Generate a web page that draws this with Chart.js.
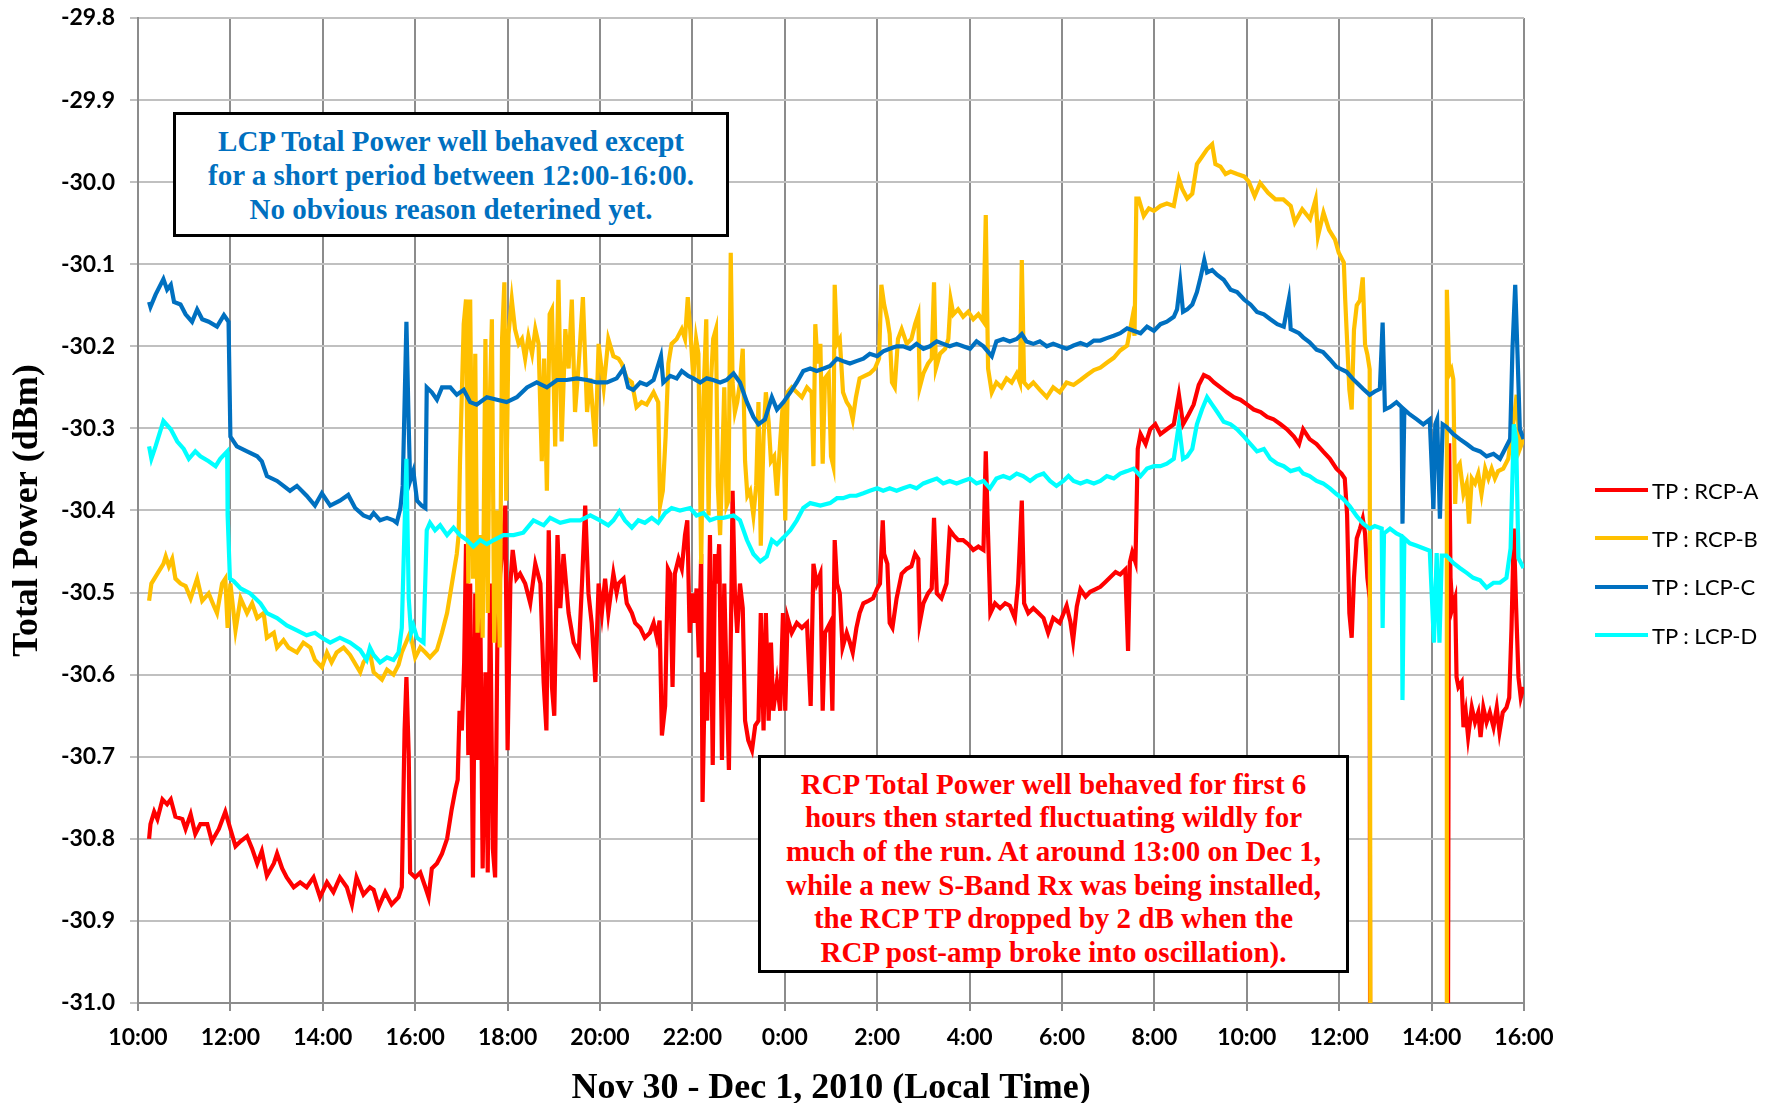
<!DOCTYPE html>
<html>
<head>
<meta charset="utf-8">
<title>Total Power, Nov 30 - Dec 1, 2010</title>
<script src="https://cdn.jsdelivr.net/npm/chart.js@4.4.1/dist/chart.umd.min.js"></script>
<style>
  html, body { margin: 0; padding: 0; background: #fff; }
  #wrap { position: relative; width: 1780px; height: 1103px; }
  #chart { position: absolute; left: 0; top: 0; }
  .note {
    position: absolute; box-sizing: border-box; background: #fff; border: 3px solid #000;
    font-family: "Liberation Serif", "Times New Roman", serif; font-weight: bold; font-size: 29px;
    text-align: center; display: flex; flex-direction: column; justify-content: center;
  }
  #lcpNote { left: 173px; top: 112px; width: 556px; height: 125px; color: #0070C0; line-height: 34px; }
  #rcpNote { left: 758px; top: 755px; width: 591px; height: 218px; color: #FF0000; line-height: 33.6px; padding-top: 9px; }
  #legend { position: absolute; left: 1595px; top: 466px; font-family: Lato, sans-serif; font-size: 22px; color: #000; }
  .item { height: 48.3px; display: flex; align-items: center; white-space: pre; }
  .swatch { display: inline-block; width: 53px; height: 4px; margin-right: 4px; }
</style>
</head>
<body>
<div id="wrap">
  <canvas id="chart" width="1780" height="1103"></canvas>
  <div class="note" id="lcpNote">
    <div>LCP Total Power well behaved except</div>
    <div>for a short period between 12:00-16:00.</div>
    <div>No obvious reason deterined yet.</div>
  </div>
  <div class="note" id="rcpNote">
    <div>RCP Total Power well behaved for first 6</div>
    <div>hours then started fluctuating wildly for</div>
    <div>much of the run. At around 13:00 on Dec 1,</div>
    <div>while a new S-Band Rx was being installed,</div>
    <div>the RCP TP dropped by 2 dB when the</div>
    <div>RCP post-amp broke into oscillation).</div>
  </div>
  <div id="legend"></div>
</div>
<script>
// x = hours after 10:00 Nov 30 (local time), y = total power in dBm
const xTickHours = [0, 2, 4, 6, 8, 10, 12, 14, 16, 18, 20, 22, 24, 26, 28, 30];
const xTickLabels = ['10:00', '12:00', '14:00', '16:00', '18:00', '20:00', '22:00', '0:00',
                     '2:00', '4:00', '6:00', '8:00', '10:00', '12:00', '14:00', '16:00'];
const yTickValues = [-31.0, -30.9, -30.8, -30.7, -30.6, -30.5, -30.4, -30.3, -30.2, -30.1, -30.0, -29.9, -29.8];
const yTickLabels = ['-31.0', '-30.9', '-30.8', '-30.7', '-30.6', '-30.5', '-30.4', '-30.3', '-30.2', '-30.1', '-30.0', '-29.9', '-29.8'];

const seriesNames = ['TP : RCP-A', 'TP : RCP-B', 'TP : LCP-C', 'TP : LCP-D'];
const seriesColors = ['#FF0000', '#FFC000', '#0070C0', '#00FFFF'];

const rcpA = [
  [0.24,-30.800],[0.27,-30.782],[0.35,-30.767],[0.42,-30.776],[0.53,-30.752],[0.63,-30.758],[0.71,-30.752],[0.81,-30.773],
  [0.96,-30.776],[1.03,-30.788],[1.14,-30.770],[1.24,-30.794],[1.35,-30.782],[1.50,-30.782],[1.60,-30.803],[1.75,-30.788],
  [1.89,-30.767],[2.00,-30.788],[2.11,-30.809],[2.22,-30.803],[2.36,-30.797],[2.47,-30.812],[2.58,-30.830],[2.68,-30.815],
  [2.79,-30.845],[2.94,-30.830],[3.01,-30.818],[3.12,-30.836],[3.22,-30.847],[3.37,-30.859],[3.51,-30.853],[3.65,-30.859],
  [3.80,-30.847],[3.94,-30.871],[4.09,-30.853],[4.23,-30.865],[4.37,-30.847],[4.52,-30.859],[4.63,-30.880],[4.73,-30.847],
  [4.88,-30.868],[5.02,-30.859],[5.10,-30.862],[5.21,-30.883],[5.35,-30.865],[5.49,-30.880],[5.64,-30.871],[5.71,-30.859],
  [5.77,-30.668],[5.81,-30.603],[5.86,-30.698],[5.89,-30.841],[6.00,-30.847],[6.11,-30.841],[6.22,-30.859],[6.29,-30.871],
  [6.36,-30.836],[6.47,-30.830],[6.58,-30.818],[6.69,-30.800],[6.79,-30.764],[6.87,-30.740],[6.92,-30.728],[6.96,-30.644],
  [7.01,-30.668],[7.06,-30.585],[7.10,-30.441],[7.15,-30.698],[7.19,-30.489],[7.25,-30.847],[7.30,-30.501],[7.35,-30.704],
  [7.41,-30.525],[7.46,-30.836],[7.52,-30.597],[7.57,-30.841],[7.62,-30.489],[7.68,-30.812],[7.73,-30.847],[7.78,-30.549],
  [7.84,-30.477],[7.90,-30.441],[7.95,-30.394],[8.00,-30.692],[8.06,-30.489],[8.11,-30.448],[8.19,-30.483],[8.27,-30.477],
  [8.38,-30.489],[8.49,-30.513],[8.60,-30.465],[8.71,-30.489],[8.78,-30.609],[8.84,-30.668],[8.89,-30.424],[8.96,-30.615],
  [9.01,-30.650],[9.08,-30.430],[9.14,-30.519],[9.21,-30.453],[9.32,-30.525],[9.43,-30.561],[9.54,-30.573],[9.61,-30.489],
  [9.68,-30.394],[9.75,-30.501],[9.82,-30.537],[9.90,-30.609],[9.97,-30.489],[10.04,-30.525],[10.11,-30.483],[10.18,-30.525],
  [10.29,-30.477],[10.36,-30.500],[10.40,-30.489],[10.51,-30.483],[10.58,-30.513],[10.69,-30.525],[10.76,-30.537],[10.87,-30.543],
  [10.97,-30.555],[11.08,-30.549],[11.16,-30.537],[11.23,-30.555],[11.29,-30.534],[11.34,-30.674],[11.41,-30.638],[11.47,-30.471],
  [11.52,-30.477],[11.57,-30.615],[11.62,-30.477],[11.70,-30.459],[11.77,-30.471],[11.84,-30.430],[11.89,-30.412],[11.94,-30.549],
  [11.99,-30.501],[12.04,-30.537],[12.09,-30.495],[12.14,-30.579],[12.19,-30.453],[12.22,-30.755],[12.27,-30.597],[12.32,-30.656],
  [12.38,-30.430],[12.44,-30.710],[12.49,-30.453],[12.53,-30.489],[12.58,-30.441],[12.64,-30.704],[12.69,-30.489],[12.74,-30.609],
  [12.79,-30.716],[12.84,-30.519],[12.87,-30.376],[12.92,-30.501],[12.97,-30.549],[13.03,-30.489],[13.09,-30.519],[13.14,-30.656],
  [13.21,-30.680],[13.29,-30.692],[13.36,-30.662],[13.43,-30.656],[13.48,-30.525],[13.54,-30.668],[13.59,-30.525],[13.65,-30.656],
  [13.70,-30.561],[13.75,-30.644],[13.83,-30.609],[13.90,-30.644],[13.96,-30.525],[14.01,-30.644],[14.06,-30.531],[14.15,-30.549],
  [14.26,-30.537],[14.37,-30.543],[14.48,-30.537],[14.56,-30.638],[14.62,-30.465],[14.69,-30.489],[14.77,-30.477],[14.82,-30.644],
  [14.87,-30.549],[14.98,-30.537],[15.03,-30.644],[15.08,-30.436],[15.13,-30.489],[15.19,-30.501],[15.25,-30.567],[15.34,-30.549],
  [15.41,-30.561],[15.47,-30.573],[15.55,-30.543],[15.62,-30.525],[15.70,-30.513],[15.81,-30.510],[15.91,-30.507],[16.00,-30.495],
  [16.06,-30.489],[16.12,-30.412],[16.15,-30.453],[16.22,-30.465],[16.27,-30.537],[16.33,-30.543],[16.42,-30.507],[16.53,-30.477],
  [16.64,-30.471],[16.74,-30.468],[16.82,-30.453],[16.89,-30.459],[16.92,-30.537],[17.00,-30.513],[17.10,-30.501],[17.18,-30.495],
  [17.23,-30.409],[17.29,-30.501],[17.39,-30.507],[17.50,-30.489],[17.57,-30.424],[17.65,-30.430],[17.75,-30.436],[17.86,-30.436],
  [17.97,-30.441],[18.08,-30.448],[18.19,-30.444],[18.30,-30.448],[18.35,-30.328],[18.40,-30.430],[18.45,-30.525],[18.55,-30.513],
  [18.66,-30.519],[18.77,-30.513],[18.87,-30.516],[18.98,-30.531],[19.05,-30.489],[19.13,-30.388],[19.18,-30.513],[19.27,-30.525],
  [19.38,-30.519],[19.49,-30.525],[19.60,-30.531],[19.70,-30.549],[19.81,-30.531],[19.95,-30.537],[20.10,-30.516],[20.18,-30.535],
  [20.24,-30.559],[20.32,-30.517],[20.40,-30.496],[20.51,-30.505],[20.61,-30.499],[20.72,-30.496],[20.83,-30.493],[20.94,-30.487],
  [21.05,-30.481],[21.16,-30.475],[21.26,-30.478],[21.37,-30.472],[21.43,-30.571],[21.47,-30.463],[21.52,-30.451],[21.59,-30.463],
  [21.64,-30.325],[21.70,-30.307],[21.81,-30.319],[21.91,-30.301],[22.02,-30.295],[22.13,-30.307],[22.27,-30.301],[22.42,-30.295],
  [22.53,-30.259],[22.62,-30.295],[22.74,-30.283],[22.85,-30.271],[22.96,-30.247],[23.07,-30.235],[23.18,-30.238],[23.29,-30.244],
  [23.43,-30.250],[23.57,-30.256],[23.72,-30.262],[23.86,-30.265],[24.01,-30.271],[24.15,-30.277],[24.30,-30.280],[24.44,-30.286],
  [24.58,-30.289],[24.73,-30.295],[24.87,-30.301],[25.02,-30.310],[25.13,-30.319],[25.22,-30.301],[25.36,-30.313],[25.51,-30.319],
  [25.65,-30.328],[25.80,-30.337],[25.94,-30.349],[26.05,-30.355],[26.12,-30.361],[26.17,-30.404],[26.22,-30.525],[26.27,-30.555],
  [26.32,-30.482],[26.38,-30.434],[26.45,-30.422],[26.51,-30.410],[26.56,-30.428],[26.61,-30.482],[26.66,-30.507],[26.69,-32.3],
  [28.31,-32.3],[28.38,-30.318],[28.41,-30.482],[28.45,-30.519],[28.51,-30.507],[28.54,-30.603],[28.58,-30.615],[28.65,-30.609],
  [28.69,-30.664],[28.74,-30.646],[28.79,-30.676],[28.87,-30.640],[28.94,-30.658],[29.01,-30.646],[29.06,-30.676],[29.12,-30.640],
  [29.19,-30.658],[29.26,-30.646],[29.34,-30.664],[29.41,-30.640],[29.47,-30.670],[29.54,-30.646],[29.62,-30.640],[29.68,-30.628],
  [29.73,-30.543],[29.78,-30.422],[29.83,-30.519],[29.88,-30.603],[29.93,-30.628],[29.99,-30.615]
];

const rcpB = [
  [0.24,-30.510],[0.29,-30.489],[0.42,-30.477],[0.55,-30.465],[0.60,-30.456],[0.67,-30.468],[0.74,-30.459],[0.81,-30.483],
  [0.92,-30.489],[1.03,-30.492],[1.14,-30.507],[1.28,-30.483],[1.39,-30.510],[1.53,-30.501],[1.64,-30.516],[1.71,-30.525],
  [1.82,-30.489],[1.89,-30.483],[1.94,-30.543],[2.00,-30.489],[2.11,-30.546],[2.22,-30.507],[2.36,-30.525],[2.47,-30.513],
  [2.58,-30.531],[2.72,-30.525],[2.79,-30.555],[2.94,-30.549],[3.01,-30.567],[3.15,-30.558],[3.26,-30.567],[3.44,-30.573],
  [3.58,-30.561],[3.73,-30.567],[3.83,-30.582],[3.98,-30.591],[4.09,-30.573],[4.19,-30.585],[4.30,-30.573],[4.45,-30.567],
  [4.59,-30.576],[4.81,-30.597],[4.88,-30.585],[5.02,-30.573],[5.10,-30.597],[5.28,-30.606],[5.39,-30.594],[5.53,-30.600],
  [5.64,-30.588],[5.71,-30.573],[5.89,-30.549],[6.00,-30.579],[6.11,-30.567],[6.22,-30.573],[6.32,-30.579],[6.47,-30.570],
  [6.58,-30.549],[6.69,-30.525],[6.76,-30.501],[6.83,-30.477],[6.90,-30.453],[6.94,-30.430],[6.97,-30.340],[7.05,-30.173],
  [7.10,-30.143],[7.15,-30.489],[7.19,-30.143],[7.25,-30.483],[7.30,-30.209],[7.35,-30.549],[7.41,-30.430],[7.46,-30.555],
  [7.52,-30.191],[7.57,-30.525],[7.61,-30.280],[7.66,-30.167],[7.71,-30.561],[7.77,-30.400],[7.83,-30.567],[7.88,-30.191],
  [7.93,-30.122],[7.97,-30.388],[8.02,-30.185],[8.09,-30.143],[8.16,-30.179],[8.24,-30.197],[8.31,-30.191],[8.38,-30.215],
  [8.45,-30.188],[8.53,-30.209],[8.60,-30.179],[8.67,-30.197],[8.74,-30.340],[8.79,-30.215],[8.85,-30.376],[8.91,-30.161],
  [8.96,-30.155],[9.03,-30.322],[9.10,-30.119],[9.17,-30.316],[9.25,-30.179],[9.32,-30.227],[9.39,-30.143],[9.46,-30.280],
  [9.54,-30.221],[9.63,-30.140],[9.72,-30.280],[9.79,-30.239],[9.90,-30.322],[9.97,-30.197],[10.08,-30.250],[10.18,-30.191],
  [10.29,-30.212],[10.40,-30.215],[10.47,-30.221],[10.58,-30.239],[10.69,-30.244],[10.79,-30.274],[10.90,-30.268],[11.01,-30.271],
  [11.16,-30.256],[11.26,-30.268],[11.30,-30.394],[11.36,-30.376],[11.42,-30.310],[11.48,-30.221],[11.55,-30.197],[11.66,-30.191],
  [11.77,-30.179],[11.84,-30.191],[11.90,-30.140],[11.96,-30.185],[12.02,-30.239],[12.08,-30.191],[12.13,-30.209],[12.19,-30.465],
  [12.24,-30.262],[12.30,-30.167],[12.35,-30.406],[12.40,-30.245],[12.45,-30.191],[12.51,-30.179],[12.55,-30.370],[12.60,-30.430],
  [12.64,-30.352],[12.69,-30.250],[12.74,-30.394],[12.78,-30.388],[12.83,-30.086],[12.87,-30.244],[12.92,-30.280],[12.97,-30.268],
  [13.03,-30.244],[13.09,-30.203],[13.14,-30.340],[13.19,-30.382],[13.25,-30.376],[13.32,-30.406],[13.38,-30.370],[13.43,-30.268],
  [13.48,-30.443],[13.54,-30.310],[13.59,-30.256],[13.65,-30.292],[13.70,-30.340],[13.77,-30.334],[13.83,-30.382],[13.90,-30.316],
  [13.96,-30.268],[14.01,-30.412],[14.06,-30.256],[14.15,-30.250],[14.26,-30.256],[14.37,-30.262],[14.48,-30.250],[14.58,-30.256],
  [14.62,-30.346],[14.66,-30.173],[14.71,-30.221],[14.77,-30.197],[14.82,-30.343],[14.87,-30.239],[14.95,-30.233],[15.00,-30.334],
  [15.05,-30.346],[15.08,-30.125],[15.13,-30.197],[15.19,-30.191],[15.26,-30.256],[15.34,-30.268],[15.41,-30.274],[15.47,-30.289],
  [15.54,-30.262],[15.62,-30.239],[15.73,-30.236],[15.84,-30.233],[15.95,-30.227],[16.04,-30.215],[16.09,-30.125],[16.15,-30.149],
  [16.22,-30.167],[16.27,-30.185],[16.32,-30.244],[16.38,-30.250],[16.45,-30.191],[16.53,-30.179],[16.64,-30.197],[16.74,-30.191],
  [16.82,-30.173],[16.89,-30.161],[16.92,-30.250],[17.00,-30.233],[17.10,-30.221],[17.18,-30.215],[17.23,-30.122],[17.27,-30.227],
  [17.36,-30.209],[17.47,-30.203],[17.54,-30.191],[17.59,-30.143],[17.65,-30.161],[17.75,-30.155],[17.86,-30.164],[17.97,-30.158],
  [18.08,-30.167],[18.19,-30.161],[18.30,-30.170],[18.35,-30.040],[18.40,-30.227],[18.48,-30.256],[18.58,-30.244],[18.69,-30.250],
  [18.80,-30.239],[18.91,-30.244],[19.02,-30.233],[19.09,-30.244],[19.13,-30.095],[19.18,-30.244],[19.27,-30.250],[19.38,-30.244],
  [19.52,-30.253],[19.67,-30.262],[19.81,-30.250],[19.95,-30.256],[20.10,-30.244],[20.25,-30.247],[20.40,-30.241],[20.54,-30.235],
  [20.69,-30.229],[20.83,-30.226],[20.97,-30.220],[21.12,-30.214],[21.26,-30.205],[21.41,-30.199],[21.52,-30.166],[21.57,-30.187],
  [21.61,-30.020],[21.66,-30.020],[21.77,-30.041],[21.88,-30.032],[21.99,-30.035],[22.13,-30.029],[22.27,-30.026],[22.42,-30.029],
  [22.53,-29.996],[22.60,-30.008],[22.71,-30.020],[22.82,-30.014],[22.92,-29.978],[23.03,-29.969],[23.14,-29.960],[23.25,-29.954],
  [23.32,-29.978],[23.43,-29.981],[23.54,-29.990],[23.65,-29.987],[23.79,-29.990],[23.94,-29.993],[24.04,-29.999],[24.17,-30.017],
  [24.29,-30.001],[24.46,-30.013],[24.62,-30.021],[24.79,-30.021],[24.95,-30.029],[25.04,-30.049],[25.20,-30.033],[25.37,-30.045],
  [25.49,-30.021],[25.54,-30.066],[25.66,-30.037],[25.78,-30.058],[25.91,-30.070],[25.99,-30.086],[26.10,-30.098],[26.13,-30.143],
  [26.16,-30.180],[26.22,-30.253],[26.27,-30.277],[26.32,-30.180],[26.38,-30.150],[26.45,-30.144],[26.51,-30.116],[26.56,-30.198],
  [26.61,-30.210],[26.66,-30.228],[26.70,-32.3],[28.32,-32.3],[28.33,-30.131],[28.38,-30.234],[28.43,-30.228],[28.47,-30.240],
  [28.51,-30.392],[28.54,-30.349],[28.61,-30.343],[28.69,-30.380],[28.76,-30.367],[28.81,-30.416],[28.87,-30.361],[28.94,-30.367],
  [29.01,-30.355],[29.08,-30.380],[29.16,-30.349],[29.23,-30.361],[29.30,-30.349],[29.37,-30.361],[29.44,-30.352],[29.55,-30.349],
  [29.66,-30.337],[29.73,-30.307],[29.78,-30.289],[29.84,-30.259],[29.91,-30.325],[29.99,-30.313]
];

const lcpC = [
  [0.24,-30.146],[0.27,-30.152],[0.38,-30.137],[0.55,-30.118],[0.63,-30.131],[0.71,-30.125],[0.78,-30.146],[0.92,-30.149],
  [1.03,-30.161],[1.17,-30.170],[1.28,-30.155],[1.39,-30.167],[1.53,-30.170],[1.71,-30.176],[1.86,-30.162],[1.96,-30.170],
  [2.00,-30.310],[2.14,-30.322],[2.36,-30.328],[2.58,-30.334],[2.68,-30.340],[2.79,-30.358],[3.01,-30.364],[3.15,-30.370],
  [3.29,-30.376],[3.44,-30.370],[3.65,-30.382],[3.83,-30.394],[3.98,-30.379],[4.16,-30.394],[4.37,-30.388],[4.55,-30.381],
  [4.70,-30.397],[4.88,-30.406],[5.02,-30.409],[5.10,-30.403],[5.24,-30.412],[5.39,-30.409],[5.53,-30.412],[5.60,-30.415],
  [5.68,-30.397],[5.73,-30.370],[5.81,-30.170],[5.86,-30.298],[5.89,-30.364],[5.96,-30.352],[6.04,-30.388],[6.14,-30.394],
  [6.22,-30.397],[6.25,-30.250],[6.36,-30.256],[6.47,-30.265],[6.58,-30.250],[6.76,-30.250],[6.90,-30.259],[7.05,-30.253],
  [7.19,-30.268],[7.33,-30.271],[7.55,-30.262],[7.77,-30.265],[7.98,-30.268],[8.20,-30.262],[8.42,-30.250],[8.63,-30.244],
  [8.85,-30.250],[9.07,-30.241],[9.28,-30.241],[9.50,-30.239],[9.72,-30.241],[9.93,-30.244],[10.15,-30.244],[10.36,-30.239],
  [10.51,-30.227],[10.61,-30.250],[10.72,-30.253],[10.87,-30.244],[11.01,-30.247],[11.16,-30.241],[11.32,-30.212],[11.37,-30.244],
  [11.52,-30.236],[11.66,-30.239],[11.77,-30.230],[11.91,-30.236],[12.02,-30.239],[12.17,-30.244],[12.31,-30.239],[12.45,-30.241],
  [12.60,-30.244],[12.74,-30.241],[12.89,-30.233],[13.03,-30.244],[13.18,-30.268],[13.32,-30.286],[13.43,-30.295],[13.57,-30.289],
  [13.72,-30.262],[13.83,-30.277],[13.97,-30.268],[14.12,-30.256],[14.26,-30.244],[14.40,-30.230],[14.55,-30.227],[14.69,-30.230],
  [14.84,-30.227],[14.98,-30.224],[15.13,-30.215],[15.26,-30.218],[15.41,-30.221],[15.55,-30.218],[15.70,-30.215],[15.84,-30.209],
  [16.00,-30.212],[16.13,-30.206],[16.27,-30.203],[16.42,-30.200],[16.56,-30.200],[16.71,-30.203],[16.85,-30.197],[17.00,-30.203],
  [17.14,-30.200],[17.29,-30.194],[17.43,-30.197],[17.57,-30.200],[17.72,-30.197],[17.86,-30.200],[18.01,-30.203],[18.15,-30.194],
  [18.30,-30.200],[18.48,-30.212],[18.58,-30.194],[18.73,-30.191],[18.87,-30.194],[19.02,-30.191],[19.13,-30.185],[19.23,-30.194],
  [19.38,-30.197],[19.52,-30.194],[19.67,-30.200],[19.81,-30.197],[19.95,-30.200],[20.10,-30.203],[20.25,-30.199],[20.40,-30.196],
  [20.54,-30.199],[20.69,-30.193],[20.83,-30.193],[20.97,-30.190],[21.12,-30.187],[21.26,-30.184],[21.41,-30.178],[21.55,-30.181],
  [21.70,-30.184],[21.84,-30.176],[21.99,-30.181],[22.13,-30.173],[22.27,-30.170],[22.42,-30.164],[22.49,-30.155],[22.56,-30.122],
  [22.62,-30.158],[22.71,-30.155],[22.82,-30.149],[22.92,-30.134],[23.00,-30.116],[23.08,-30.095],[23.14,-30.110],[23.25,-30.107],
  [23.36,-30.113],[23.50,-30.119],[23.65,-30.131],[23.79,-30.134],[23.94,-30.143],[24.08,-30.149],[24.22,-30.158],[24.37,-30.161],
  [24.51,-30.167],[24.66,-30.173],[24.80,-30.176],[24.91,-30.143],[24.95,-30.179],[25.13,-30.184],[25.22,-30.189],[25.36,-30.195],
  [25.51,-30.204],[25.65,-30.207],[25.80,-30.216],[25.94,-30.225],[26.05,-30.228],[26.16,-30.231],[26.30,-30.240],[26.41,-30.246],
  [26.52,-30.252],[26.66,-30.259],[26.77,-30.255],[26.88,-30.252],[26.94,-30.171],[26.99,-30.277],[27.10,-30.274],[27.24,-30.268],
  [27.35,-30.274],[27.37,-30.416],[27.41,-30.277],[27.53,-30.283],[27.68,-30.289],[27.82,-30.295],[27.96,-30.289],[28.04,-30.398],
  [28.08,-30.295],[28.12,-30.289],[28.18,-30.410],[28.24,-30.295],[28.32,-30.298],[28.47,-30.307],[28.61,-30.313],[28.76,-30.319],
  [28.90,-30.325],[29.05,-30.328],[29.19,-30.334],[29.34,-30.331],[29.48,-30.337],[29.59,-30.325],[29.70,-30.313],[29.75,-30.204],
  [29.81,-30.125],[29.86,-30.210],[29.91,-30.301],[29.99,-30.313]
];

const lcpD = [
  [0.24,-30.322],[0.29,-30.337],[0.38,-30.322],[0.55,-30.291],[0.71,-30.301],[0.85,-30.316],[0.99,-30.325],[1.10,-30.337],
  [1.24,-30.328],[1.35,-30.334],[1.53,-30.340],[1.68,-30.346],[1.78,-30.337],[1.93,-30.328],[1.94,-30.406],[1.99,-30.483],
  [2.07,-30.486],[2.22,-30.495],[2.43,-30.501],[2.65,-30.513],[2.79,-30.525],[3.01,-30.531],[3.22,-30.540],[3.44,-30.546],
  [3.65,-30.552],[3.83,-30.549],[3.98,-30.555],[4.16,-30.561],[4.37,-30.555],[4.59,-30.561],[4.81,-30.570],[4.95,-30.582],
  [5.02,-30.567],[5.10,-30.576],[5.24,-30.585],[5.39,-30.579],[5.53,-30.582],[5.64,-30.573],[5.71,-30.543],[5.81,-30.337],
  [5.86,-30.507],[5.91,-30.549],[5.96,-30.540],[6.04,-30.555],[6.18,-30.561],[6.25,-30.424],[6.32,-30.415],[6.43,-30.424],
  [6.54,-30.418],[6.69,-30.430],[6.83,-30.421],[6.97,-30.430],[7.12,-30.436],[7.26,-30.444],[7.41,-30.436],[7.55,-30.441],
  [7.70,-30.436],[7.91,-30.430],[8.13,-30.430],[8.34,-30.427],[8.56,-30.412],[8.78,-30.418],[8.92,-30.409],[9.14,-30.415],
  [9.35,-30.412],[9.57,-30.412],[9.79,-30.406],[10.00,-30.412],[10.18,-30.418],[10.29,-30.412],[10.42,-30.401],[10.54,-30.412],
  [10.69,-30.421],[10.83,-30.412],[10.97,-30.415],[11.12,-30.409],[11.26,-30.415],[11.41,-30.403],[11.55,-30.397],[11.73,-30.400],
  [11.95,-30.397],[12.09,-30.406],[12.24,-30.403],[12.38,-30.412],[12.53,-30.409],[12.67,-30.409],[12.89,-30.406],[13.03,-30.412],
  [13.18,-30.436],[13.32,-30.453],[13.47,-30.462],[13.61,-30.456],[13.72,-30.436],[13.83,-30.441],[13.97,-30.433],[14.12,-30.424],
  [14.26,-30.412],[14.40,-30.397],[14.55,-30.391],[14.77,-30.394],[14.98,-30.391],[15.13,-30.385],[15.26,-30.385],[15.41,-30.382],
  [15.55,-30.382],[15.70,-30.379],[15.84,-30.376],[16.00,-30.373],[16.13,-30.376],[16.27,-30.373],[16.42,-30.376],[16.56,-30.373],
  [16.71,-30.370],[16.85,-30.373],[17.00,-30.367],[17.14,-30.364],[17.29,-30.361],[17.43,-30.367],[17.57,-30.364],[17.72,-30.367],
  [17.86,-30.364],[18.01,-30.361],[18.15,-30.367],[18.30,-30.364],[18.44,-30.373],[18.58,-30.361],[18.73,-30.358],[18.87,-30.361],
  [19.02,-30.355],[19.16,-30.358],[19.31,-30.364],[19.45,-30.358],[19.60,-30.355],[19.74,-30.364],[19.88,-30.370],[20.03,-30.364],
  [20.14,-30.358],[20.25,-30.364],[20.40,-30.367],[20.54,-30.364],[20.69,-30.367],[20.83,-30.364],[20.97,-30.358],[21.12,-30.361],
  [21.26,-30.355],[21.41,-30.352],[21.55,-30.349],[21.70,-30.358],[21.84,-30.349],[21.99,-30.346],[22.13,-30.346],[22.27,-30.343],
  [22.42,-30.337],[22.53,-30.295],[22.62,-30.337],[22.71,-30.334],[22.82,-30.325],[22.92,-30.295],[23.03,-30.277],[23.14,-30.262],
  [23.25,-30.271],[23.36,-30.280],[23.50,-30.292],[23.65,-30.295],[23.79,-30.301],[23.94,-30.310],[24.08,-30.319],[24.22,-30.328],
  [24.37,-30.325],[24.51,-30.337],[24.66,-30.343],[24.80,-30.346],[24.95,-30.352],[25.13,-30.349],[25.22,-30.355],[25.36,-30.358],
  [25.51,-30.364],[25.65,-30.367],[25.80,-30.373],[25.94,-30.380],[26.09,-30.386],[26.23,-30.395],[26.38,-30.407],[26.52,-30.416],
  [26.66,-30.422],[26.77,-30.419],[26.92,-30.422],[26.94,-30.543],[26.97,-30.428],[27.10,-30.422],[27.24,-30.428],[27.35,-30.431],
  [27.37,-30.631],[27.41,-30.434],[27.53,-30.440],[27.68,-30.443],[27.82,-30.446],[27.96,-30.449],[28.05,-30.561],[28.11,-30.452],
  [28.17,-30.561],[28.22,-30.455],[28.32,-30.455],[28.47,-30.464],[28.61,-30.470],[28.76,-30.476],[28.90,-30.482],[29.05,-30.485],
  [29.19,-30.494],[29.34,-30.488],[29.48,-30.488],[29.62,-30.482],[29.71,-30.446],[29.78,-30.295],[29.83,-30.313],[29.88,-30.458],
  [29.99,-30.470]
];

const seriesData = [rcpA, rcpB, lcpC, lcpD];

const tickFont = { family: 'Lato', weight: 'bold', size: 23 };
const titleFont = { family: 'Liberation Serif', weight: 'bold', size: 36, lineHeight: 1 };

// legend as plain html rows
const legendEl = document.getElementById('legend');
seriesNames.forEach((name, i) => {
    const row = document.createElement('div');
    row.className = 'item';
    const sw = document.createElement('span');
    sw.className = 'swatch';
    sw.style.background = seriesColors[i];
    row.appendChild(sw);
    row.appendChild(document.createTextNode(name));
    legendEl.appendChild(row);
});

const ctx = document.getElementById('chart').getContext('2d');
new Chart(ctx, {
    type: 'line',
    data: {
        datasets: seriesNames.map((name, i) => ({
            label: name,
            data: seriesData[i].map(p => ({ x: p[0], y: p[1] })),
            borderColor: seriesColors[i],
            borderWidth: 4.2,
            pointRadius: 0,
            tension: 0,
            fill: false,
            order: seriesNames.length - i // later series are drawn on top, like the original
        }))
    },
    options: {
        responsive: false,
        animation: false,
        devicePixelRatio: 1,
        layout: { padding: { left: 0, right: 256, top: 18, bottom: 0 } },
        plugins: { legend: { display: false }, tooltip: { enabled: false } },
        scales: {
            x: {
                type: 'linear',
                min: 0,
                max: 30,
                afterBuildTicks: s => { s.ticks = xTickHours.map(v => ({ value: v })); },
                afterFit: s => { s.height = 100; },
                ticks: {
                    callback: v => xTickLabels[xTickHours.indexOf(v)],
                    font: tickFont, color: '#000', padding: 13, maxRotation: 0, autoSkip: false
                },
                grid: { color: '#8c8c8c', lineWidth: 2, tickLength: 8, tickColor: '#8c8c8c' },
                border: { color: '#8c8c8c', width: 2 },
                title: {
                    display: true, text: 'Nov 30 - Dec 1, 2010 (Local Time)',
                    font: titleFont, color: '#000', padding: { top: 0, bottom: -4 }
                }
            },
            y: {
                min: -31.0,
                max: -29.8,
                afterBuildTicks: s => { s.ticks = yTickValues.map(v => ({ value: v })); },
                // fixed axis width; drop the extra top/bottom room the label padding asks for
                afterFit: s => { s.width = 138; s.paddingTop = 10; s.paddingBottom = 10; },
                ticks: {
                    callback: (v, i) => yTickLabels[i],
                    font: tickFont, color: '#000', padding: 15
                },
                grid: { color: '#c0c0c0', lineWidth: 2, tickLength: 8, tickColor: '#c0c0c0' },
                border: { color: '#8c8c8c', width: 2 },
                title: {
                    display: true, text: 'Total Power (dBm)',
                    font: titleFont, color: '#000', padding: { top: 10, bottom: 0 }
                }
            }
        }
    }
});
</script>
</body>
</html>
